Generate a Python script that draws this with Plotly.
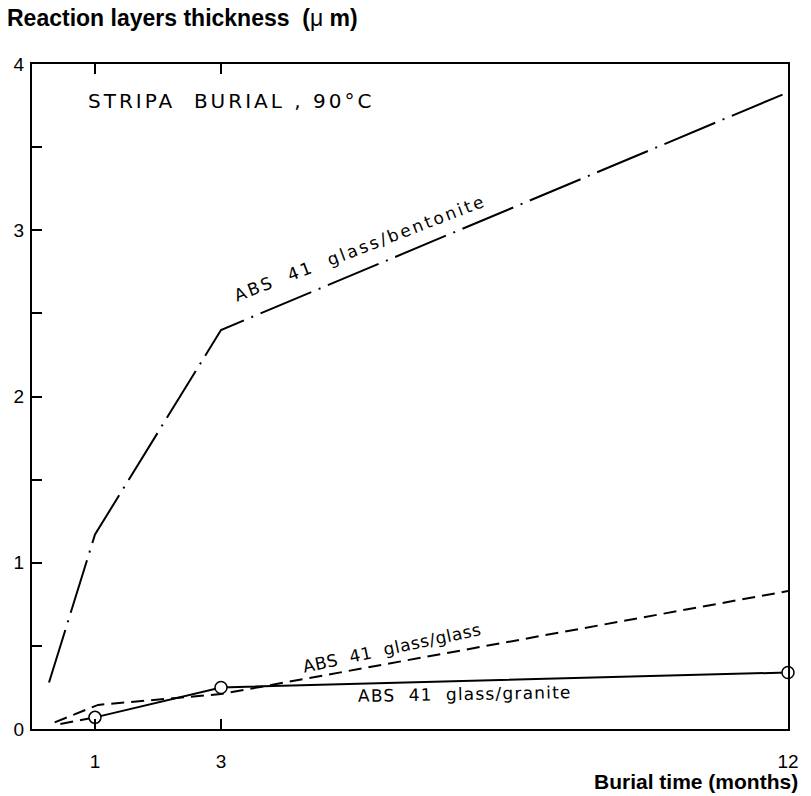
import plotly.graph_objects as go

# Burial time (months) and reaction layer thickness (micrometres)
bentonite_t = [0.27, 1.0, 3.0, 12.0]
bentonite_um = [0.28, 1.17, 2.40, 3.83]

glass_t = [0.36, 1.05, 3.0, 12.0]
glass_um = [0.04, 0.145, 0.21, 0.83]

granite_t = [1.0, 3.0, 12.0]
granite_um = [0.07, 0.25, 0.34]

# extrapolation of the granite curve towards the origin
granite_ext_t = [0.45, 1.0]
granite_ext_um = [0.03, 0.07]

x_ticks = [1, 3, 12]
y_ticks = [0, 0.5, 1, 1.5, 2, 2.5, 3, 3.5, 4]
y_labels = ["0", "", "1", "", "2", "", "3", "", "4"]

FONT = "Liberation Sans"
LETTERING = "DejaVu Sans"
INK = "black"

W, H = 811, 796
L, R, T, B = 32, 14, 64, 67
pw, ph = W - L - R, H - T - B


def px(xp, yp):
    """Pixel position on the page -> paper coordinates."""
    return (xp - L) / pw, 1 - (yp - T) / ph


def spaced(text, gap):
    return f'<span style="letter-spacing:{gap}px">{text}</span>'


fig = go.Figure()

fig.add_trace(go.Scatter(
    x=bentonite_t, y=bentonite_um, mode="lines",
    line=dict(color=INK, width=2, dash="55px,8px,2px,8px"),
    cliponaxis=False, showlegend=False))

fig.add_trace(go.Scatter(
    x=glass_t, y=glass_um, mode="lines",
    line=dict(color=INK, width=2, dash="13px,7px"),
    cliponaxis=False, showlegend=False))

fig.add_trace(go.Scatter(
    x=granite_ext_t, y=granite_ext_um, mode="lines",
    line=dict(color=INK, width=2, dash="13px,7px"),
    cliponaxis=False, showlegend=False))

fig.add_trace(go.Scatter(
    x=granite_t, y=granite_um, mode="lines+markers",
    line=dict(color=INK, width=2),
    marker=dict(symbol="circle", size=12, color="white",
                line=dict(color=INK, width=1.5)),
    cliponaxis=False, showlegend=False))


def note(xp, yp, text, size, angle=0, family=LETTERING, xanchor="center"):
    x, y = px(xp, yp)
    fig.add_annotation(x=x, y=y, xref="paper", yref="paper", text=text,
                       showarrow=False, textangle=angle,
                       xanchor=xanchor, yanchor="middle",
                       font=dict(family=family, size=size, color=INK))


# curve labels
note(364, 248, spaced("ABS  41  glass/bentonite", 2.5), 17, angle=-21)
note(396, 648, spaced("ABS  41  glass/glass", 0.6), 17, angle=-12)
note(470, 694, spaced("ABS  41  glass/granite", 1.2), 17, angle=-1)

# figure caption inside the frame
note(87, 101, spaced("STRIPA  BURIAL , 90°C", 3), 20, xanchor="left")

# axis titles
note(5, 18, "<b>Reaction layers thickness  (</b>μ<b> m)</b>", 23,
     family=FONT, xanchor="left")
note(809, 781, "<b>Burial time (months)</b>", 21, family=FONT, xanchor="right")

fig.update_layout(
    width=W, height=H,
    margin=dict(l=L, r=R, t=T, b=B),
    paper_bgcolor="white", plot_bgcolor="white",
    xaxis=dict(range=[0, 12], tickmode="array", tickvals=x_ticks,
               ticks="inside", ticklen=10, tickwidth=2, tickcolor=INK,
               showline=True, linewidth=2, linecolor=INK, mirror="ticks",
               showgrid=False, zeroline=False, ticklabelstandoff=14,
               tickfont=dict(family=FONT, size=19, color=INK)),
    yaxis=dict(range=[0, 4], tickmode="array", tickvals=y_ticks, ticktext=y_labels,
               ticks="inside", ticklen=10, tickwidth=2, tickcolor=INK,
               showline=True, linewidth=2, linecolor=INK, mirror=True,
               showgrid=False, zeroline=False, ticklabelstandoff=2,
               tickfont=dict(family=FONT, size=19, color=INK)),
)

fig.write_html("out.html")
